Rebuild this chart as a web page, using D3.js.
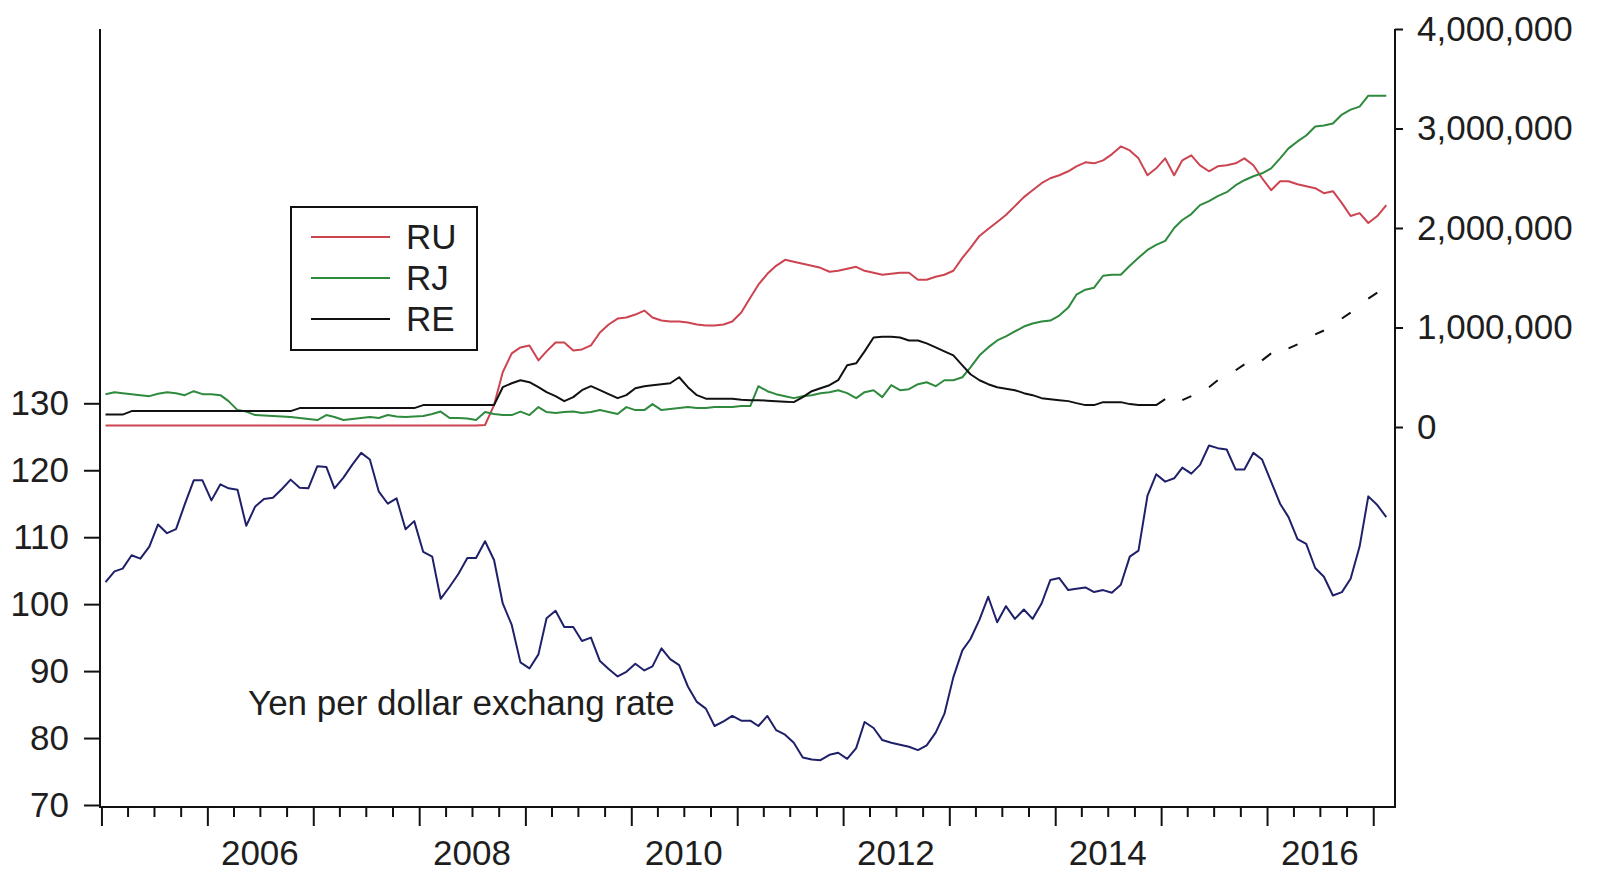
<!DOCTYPE html>
<html>
<head>
<meta charset="utf-8">
<script src="https://cdn.jsdelivr.net/npm/d3@7"></script>
<style>
  html, body { margin: 0; padding: 0; background: #fff; }
  svg { display: block; }
  text { font-family: "Liberation Sans", Arial, sans-serif; font-size: 35px; fill: #1e1e1e; }
</style>
</head>
<body>
<svg id="chart" width="1600" height="875"></svg>
<script>
// Monthly observations, 2005M01 .. 2017M02 (146 months)
const firstMonth = new Date(2005, 0, 1);
const endMonthExclusive = new Date(2017, 2, 1);

// Yen per dollar exchange rate (left scale)
const yen = [
  103.3, 104.9, 105.3, 107.3, 106.8, 108.6, 111.9, 110.6, 111.2, 114.9, 118.5, 118.5,
  115.5, 117.9, 117.3, 117.1, 111.7, 114.6, 115.7, 115.9, 117.2, 118.6, 117.4, 117.3,
  120.6, 120.5, 117.3, 118.9, 120.8, 122.6, 121.6, 116.8, 115.0, 115.8, 111.2, 112.4,
  107.8, 107.1, 100.8, 102.6, 104.5, 106.9, 106.9, 109.4, 106.6, 100.1, 96.9, 91.3,
  90.4, 92.5, 97.9, 99.0, 96.6, 96.6, 94.5, 95.0, 91.5, 90.3, 89.2, 89.9,
  91.1, 90.1, 90.7, 93.4, 91.8, 90.9, 87.7, 85.4, 84.4, 81.8, 82.5, 83.3,
  82.6, 82.6, 81.8, 83.3, 81.2, 80.5, 79.3, 77.1, 76.8, 76.7, 77.5, 77.8,
  76.9, 78.5, 82.4, 81.5, 79.7, 79.3, 79.0, 78.7, 78.2, 78.9, 80.8, 83.6,
  89.1, 93.1, 94.8, 97.7, 101.1, 97.3, 99.7, 97.8, 99.2, 97.8, 100.1, 103.6,
  103.9, 102.1, 102.3, 102.5, 101.8, 102.1, 101.7, 102.9, 107.1, 108.0, 116.2, 119.4,
  118.3, 118.8, 120.4, 119.5, 120.8, 123.7, 123.3, 123.1, 120.1, 120.1, 122.6, 121.6,
  118.3, 115.0, 113.0, 109.7, 109.0, 105.4, 104.1, 101.3, 101.8, 103.8, 108.6, 116.1,
  114.8, 113.0
];

// RU (right scale)
const RU = [
  15000, 15000, 15000, 15000, 15000, 15000, 15000, 15000, 15000, 15000, 15000, 15000,
  15000, 15000, 15000, 15000, 15000, 15000, 15000, 15000, 15000, 15000, 15000, 15000,
  15000, 15000, 15000, 15000, 15000, 15000, 15000, 15000, 15000, 15000, 15000, 15000,
  15000, 15000, 15000, 15000, 15000, 15000, 15000, 20000, 220000, 550000, 740000, 800000,
  820000, 670000, 760000, 850000, 850000, 770000, 780000, 820000, 950000, 1030000, 1090000, 1100000,
  1130000, 1170000, 1100000, 1070000, 1060000, 1060000, 1050000, 1030000, 1020000, 1020000, 1030000, 1060000,
  1150000, 1300000, 1430000, 1540000, 1620000, 1680000, 1660000, 1640000, 1620000, 1600000, 1560000, 1570000,
  1590000, 1610000, 1570000, 1550000, 1530000, 1540000, 1550000, 1550000, 1480000, 1480000, 1510000, 1530000,
  1570000, 1700000, 1800000, 1920000, 1990000, 2060000, 2130000, 2220000, 2310000, 2380000, 2450000, 2500000,
  2530000, 2570000, 2620000, 2660000, 2650000, 2680000, 2740000, 2820000, 2780000, 2700000, 2530000, 2600000,
  2700000, 2530000, 2680000, 2730000, 2630000, 2570000, 2620000, 2630000, 2650000, 2700000, 2630000, 2500000,
  2380000, 2470000, 2470000, 2440000, 2420000, 2400000, 2350000, 2370000, 2250000, 2120000, 2150000, 2050000,
  2120000, 2230000
];

// RJ (right scale)
const RJ = [
  330000, 350000, 340000, 330000, 320000, 310000, 335000, 350000, 340000, 320000, 360000, 330000,
  330000, 320000, 260000, 170000, 155000, 120000, 115000, 110000, 105000, 100000, 90000, 80000,
  70000, 120000, 100000, 70000, 80000, 90000, 100000, 90000, 120000, 105000, 100000, 105000,
  110000, 130000, 155000, 90000, 90000, 85000, 70000, 150000, 130000, 120000, 120000, 155000,
  120000, 200000, 150000, 140000, 150000, 155000, 140000, 150000, 170000, 150000, 130000, 200000,
  170000, 170000, 230000, 170000, 180000, 190000, 200000, 190000, 190000, 200000, 200000, 200000,
  210000, 210000, 410000, 360000, 330000, 310000, 290000, 310000, 320000, 340000, 350000, 370000,
  340000, 290000, 350000, 370000, 300000, 420000, 370000, 380000, 430000, 450000, 410000, 470000,
  470000, 500000, 600000, 720000, 800000, 870000, 910000, 960000, 1010000, 1040000, 1060000, 1070000,
  1120000, 1200000, 1330000, 1380000, 1400000, 1520000, 1530000, 1530000, 1620000, 1700000, 1780000, 1830000,
  1870000, 2000000, 2080000, 2140000, 2230000, 2270000, 2320000, 2360000, 2430000, 2480000, 2520000, 2550000,
  2600000, 2700000, 2800000, 2870000, 2930000, 3020000, 3030000, 3050000, 3140000, 3190000, 3220000, 3330000,
  3330000, 3330000
];

// RE (right scale); null marks a missing month
const RE = [
  125000, 125000, 125000, 160000, 160000, 160000, 160000, 160000, 160000, 160000, 160000, 160000,
  160000, 160000, 160000, 160000, 160000, 160000, 160000, 160000, 160000, 160000, 190000, 190000,
  190000, 190000, 190000, 190000, 190000, 190000, 190000, 190000, 190000, 190000, 190000, 190000,
  220000, 220000, 220000, 220000, 220000, 220000, 220000, 220000, 220000, 400000, 440000, 470000,
  450000, 400000, 350000, 310000, 260000, 300000, 370000, 410000, 370000, 330000, 290000, 320000,
  390000, 410000, 420000, 430000, 440000, 500000, 400000, 320000, 285000, 285000, 285000, 285000,
  275000, 270000, 270000, 265000, 260000, 255000, 250000, 300000, 360000, 390000, 420000, 470000,
  620000, 640000, 760000, 900000, 906000, 906000, 900000, 870000, 870000, 840000, 800000, 760000,
  720000, 620000, 530000, 470000, 430000, 400000, 385000, 370000, 340000, 320000, 290000, 280000,
  270000, 260000, 240000, 220000, 220000, 250000, 250000, 250000, 230000, 220000, 220000, 220000,
  280000, null, 270000, 310000, null, 400000, 470000, null, 570000, 630000, null, 670000,
  740000, null, 790000, 830000, null, 930000, 970000, null, 1090000, 1150000, null, 1290000,
  1350000, null
];

const leftTicks = [70, 80, 90, 100, 110, 120, 130];
const rightTicks = [0, 1000000, 2000000, 3000000, 4000000];
const labelYears = [2006, 2008, 2010, 2012, 2014, 2016];
const legendNames = ["RU", "RJ", "RE"];
const noteText = "Yen per dollar exchang rate";

const colors = { yen: "#20206a", RU: "#cc4450", RJ: "#2f8a3e", RE: "#111111" };

// ---- layout ----
const frame = { left: 100, right: 1395, top: 29, bottom: 807 };

const svg = d3.select("#chart");

const months = d3.timeMonth.range(firstMonth, endMonthExclusive);
const obsDate = m => d3.timeDay.offset(m, 14);   // each observation sits mid-month

const x = d3.scaleTime()
  .domain([new Date(2004, 11, 27), new Date(2017, 2, 17)])
  .range([frame.left, frame.right]);
const yL = d3.scaleLinear().domain([70, 130]).range([805, 403.3]);
const yR = d3.scaleLinear().domain([0, 4000000]).range([427, 29]);

// ---- axis frame lines ----
const frameG = svg.append("g").attr("stroke", "#111").attr("stroke-width", 2).attr("fill", "none");
frameG.append("line").attr("x1", frame.left).attr("x2", frame.left).attr("y1", frame.top).attr("y2", frame.bottom + 1);
frameG.append("line").attr("x1", frame.right).attr("x2", frame.right).attr("y1", frame.top).attr("y2", frame.bottom + 1);
frameG.append("line").attr("x1", frame.left).attr("x2", frame.right).attr("y1", frame.bottom).attr("y2", frame.bottom);

function styleAxis(g) {
  g.attr("font-size", null).attr("font-family", null);
  g.select(".domain").remove();
  g.selectAll(".tick line").attr("stroke", "#111").attr("stroke-width", 2);
  g.selectAll(".tick text").attr("fill", "#1e1e1e");
}

// left axis (exchange rate)
svg.append("g")
  .attr("transform", `translate(${frame.left},0)`)
  .call(d3.axisLeft(yL).tickValues(leftTicks).tickSize(16).tickPadding(15))
  .call(styleAxis);

// right axis (RU, RJ, RE)
svg.append("g")
  .attr("transform", `translate(${frame.right},0)`)
  .call(d3.axisRight(yR).tickValues(rightTicks).tickSize(8).tickPadding(14).tickFormat(d3.format(",")))
  .call(styleAxis);

// bottom axis: long ticks at each January, short ticks at quarters
const yearStarts = d3.timeYear.range(new Date(2005, 0, 1), new Date(2017, 0, 2));
const quarterTicks = d3.timeMonth.every(3).range(new Date(2005, 0, 1), new Date(2017, 2, 1))
  .filter(d => d.getMonth() !== 0);

svg.append("g")
  .attr("transform", `translate(0,${frame.bottom})`)
  .call(d3.axisBottom(x).tickValues(yearStarts).tickSize(19).tickFormat(""))
  .call(styleAxis);
svg.append("g")
  .attr("transform", `translate(0,${frame.bottom})`)
  .call(d3.axisBottom(x).tickValues(quarterTicks).tickSize(10).tickFormat(""))
  .call(styleAxis);

// year labels centred on each labelled year
svg.append("g").selectAll("text")
  .data(labelYears)
  .join("text")
  .attr("x", d => x(new Date(d, 6, 1)))
  .attr("y", 865)
  .attr("text-anchor", "middle")
  .text(d => d);

// ---- series ----
const lineL = d3.line()
  .x((d, i) => x(obsDate(months[i])))
  .y(d => yL(d));
const lineR = d3.line()
  .defined(d => d !== null)
  .x((d, i) => x(obsDate(months[i])))
  .y(d => yR(d));

const seriesG = svg.append("g").attr("fill", "none").attr("stroke-width", 2)
  .attr("stroke-linejoin", "round").attr("stroke-linecap", "butt");

seriesG.append("path").datum(yen).attr("stroke", colors.yen).attr("d", lineL);
seriesG.append("path").datum(RU).attr("stroke", colors.RU).attr("d", lineR);
seriesG.append("path").datum(RJ).attr("stroke", colors.RJ).attr("d", lineR);
seriesG.append("path").datum(RE).attr("stroke", colors.RE).attr("d", lineR);

// ---- legend ----
const legend = svg.append("g");
legend.append("rect")
  .attr("x", 291).attr("y", 207).attr("width", 186).attr("height", 143)
  .attr("fill", "#fff").attr("stroke", "#111").attr("stroke-width", 2);
const rows = legend.selectAll("g.row")
  .data(legendNames)
  .join("g")
  .attr("class", "row")
  .attr("transform", (d, i) => `translate(0,${237 + i * 41})`);
rows.append("line")
  .attr("x1", 311).attr("x2", 390).attr("y1", 0).attr("y2", 0)
  .attr("stroke", d => colors[d]).attr("stroke-width", 2);
rows.append("text")
  .attr("x", 406).attr("y", 0).attr("dy", "0.35em")
  .text(d => d);

// ---- annotation ----
svg.append("text")
  .attr("x", 248).attr("y", 715)
  .text(noteText);
</script>
</body>
</html>
